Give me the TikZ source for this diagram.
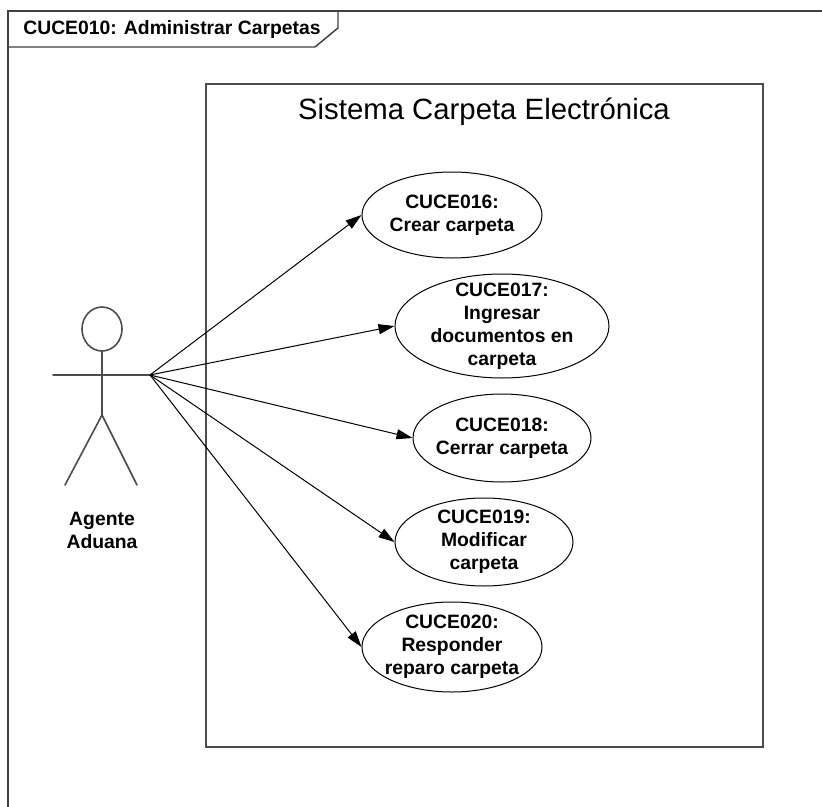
\documentclass[tikz,border=0pt]{standalone}
\usepackage{fontspec}
\setmainfont{Liberation Sans}
\usetikzlibrary{shapes.geometric,arrows.meta}
\begin{document}
\begin{tikzpicture}[x=0.75pt,y=-0.75pt,
  ucfont/.style={font=\fontsize{14.5}{17.2}\selectfont\bfseries},
  usecase/.style={ellipse,draw=black,line width=0.75pt,inner sep=0pt,fill=white},
  uctext/.style={ucfont,align=center,inner sep=0pt},
  assoc/.style={draw=black,line width=0.75pt,-{Triangle[length=12pt,width=7.5pt]}},
  frameline/.style={draw=black!75,line width=1.1pt},
  sysline/.style={draw=black!70,line width=1.5pt},
  actorline/.style={draw=black!70,line width=1.2pt,line cap=round}
]
\useasboundingbox (0,0) rectangle (822,807);

% diagram frame and its name tab
\draw[frameline] (8,807) -- (8,11) -- (822,11);
\draw[frameline] (8,47) -- (315,47) -- (338,28) -- (338,11);
\node[ucfont,anchor=center] (frametitle) at (172,30) {CUCE010: Administrar Carpetas};

% system boundary
\draw[sysline] (206,84) rectangle (763,747);
\node[font=\fontsize{22}{26}\selectfont] (systitle) at (484,112) {Sistema Carpeta Electrónica};

% actor
\node[ellipse,actorline,minimum width=30pt,minimum height=33pt,inner sep=0pt] (head) at (102,329) {};
\coordinate (neck) at (102,351);
\coordinate (hip) at (102,415);
\coordinate (lefthand) at (53,375);
\coordinate (hand) at (150,375);
\coordinate (leftfoot) at (65,485);
\coordinate (rightfoot) at (137,485);
\draw[actorline] (head.south) -- (hip);
\draw[actorline] (lefthand) -- (hand);
\draw[actorline] (leftfoot) -- (hip) -- (rightfoot);
\node[ucfont,align=center] (actorname) at (102,530) {Agente\\Aduana};

% use cases
\node[usecase,minimum width=135pt,minimum height=64.5pt,
  label={[uctext]center:CUCE016:\\Crear carpeta}] (uc16) at (452,215) {};
\node[usecase,minimum width=160.5pt,minimum height=78pt,
  label={[uctext]center:CUCE017:\\Ingresar\\documentos en\\carpeta}] (uc17) at (502,326) {};
\node[usecase,minimum width=133.5pt,minimum height=66pt,
  label={[uctext]center:CUCE018:\\Cerrar carpeta}] (uc18) at (502,438) {};
\node[usecase,minimum width=133.5pt,minimum height=66pt,
  label={[uctext]center:CUCE019:\\Modificar\\carpeta}] (uc19) at (484,542) {};
\node[usecase,minimum width=135pt,minimum height=67.5pt,
  label={[uctext]center:CUCE020:\\Responder\\reparo carpeta}] (uc20) at (452,647) {};

% associations
\draw[assoc] (hand) -- (uc16.west);
\draw[assoc] (hand) -- (uc17.west);
\draw[assoc] (hand) -- (uc18.west);
\draw[assoc] (hand) -- (uc19.west);
\draw[assoc] (hand) -- (uc20.west);
\end{tikzpicture}
\end{document}
